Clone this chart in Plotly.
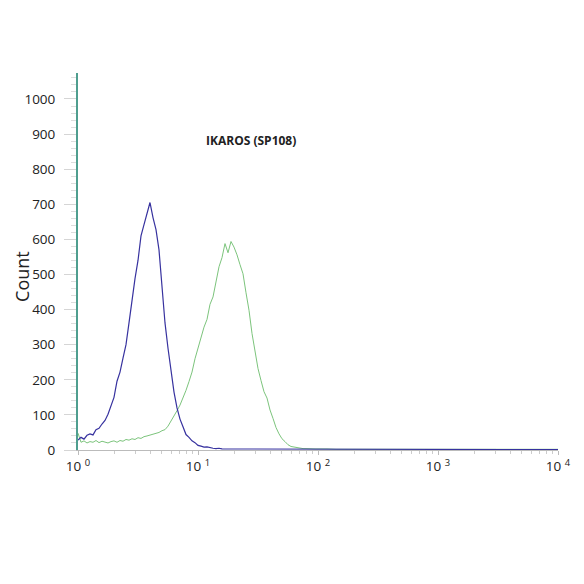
import plotly.graph_objects as go

# bin positions in decades (log10 of intensity), uniform channels
bin_step = 0.025
n_bins = 101
log_bins = [i * bin_step for i in range(n_bins)]
tail_log = [2.6, 2.7, 2.8, 2.9, 3.0, 3.1, 3.2, 3.3, 3.4, 3.5, 3.6, 3.7, 3.8, 3.9, 4.0]

blue_counts = [
    28, 36, 31, 42, 46, 43, 58, 62, 74, 84,
    102, 128, 150, 196, 222, 262, 300, 362, 430, 488,
    540, 610, 642, 676, 705, 662, 628, 570, 460, 362,
    290, 222, 165, 120, 88, 66, 44, 36, 26, 21,
    13, 11, 8, 9, 6, 5, 4, 5, 3, 3,
    2, 3, 2, 2, 1, 2, 1, 2, 1, 1,
    2, 1, 1, 2, 1, 1, 1, 2, 1, 1,
    1, 1, 2, 1, 1, 1, 1, 1, 2, 1,
    1, 1, 1, 1, 1, 2, 1, 1, 1, 1,
    1, 1, 1, 1, 1, 1, 1, 1, 1, 1,
    1,
]
blue_tail = [1, 1, 1, 1, 1, 1, 1, 1, 1, 1, 1, 1, 1, 1, 1]

green_counts = [
    48, 22, 26, 20, 24, 22, 27, 21, 25, 23,
    20, 24, 26, 22, 27, 25, 30, 28, 32, 30,
    35, 33, 38, 40, 42, 45, 48, 50, 55, 58,
    68, 82, 95, 112, 128, 148, 170, 195, 222, 260,
    290, 318, 350, 372, 415, 436, 475, 522, 548, 588,
    562, 594, 578, 556, 528, 502, 448, 398, 332, 280,
    232, 198, 166, 148, 114, 90, 64, 46, 32, 24,
    15, 10, 8, 6, 5, 4, 4, 3, 4, 3,
    3, 2, 3, 3, 2, 3, 2, 2, 3, 2,
    2, 2, 3, 2, 2, 2, 2, 3, 2, 2,
    2,
]
green_tail = [2, 2, 2, 2, 2, 2, 2, 2, 2, 2, 2, 2, 2, 2, 2]

x_tickvals = [1, 10, 100, 1000, 10000]
x_ticktext = ["10 <sup>0</sup>", "10 <sup>1</sup>", "10 <sup>2</sup>", "10 <sup>3</sup>", "10 <sup>4</sup>"]
y_tickvals = [0, 100, 200, 300, 400, 500, 600, 700, 800, 900, 1000]

title_text = "IKAROS (SP108)"
y_title = "Count"

xs = [10 ** v for v in log_bins + tail_log]

fig = go.Figure()
fig.add_trace(go.Scatter(x=xs, y=green_counts + green_tail, mode="lines",
                         line=dict(color="#7cc47c", width=1), hoverinfo="skip"))
fig.add_trace(go.Scatter(x=xs, y=blue_counts + blue_tail, mode="lines",
                         line=dict(color="#37329f", width=1.2), hoverinfo="skip"))

fig.update_layout(
    width=584, height=584,
    margin=dict(l=70, r=34, t=65, b=142),
    paper_bgcolor="white", plot_bgcolor="white",
    showlegend=False,
    font=dict(family="Open Sans, DejaVu Sans, sans-serif", color="#333333"),
)
fig.update_xaxes(
    type="log", range=[0, 4],
    tickvals=x_tickvals, ticktext=x_ticktext,
    tickfont=dict(size=13.5, color="#222222"),
    showline=True, linecolor="#bbbbbb", linewidth=1,
    ticks="outside", ticklen=4, tickcolor="#bbbbbb",
    minor=dict(ticks="outside", ticklen=3, tickcolor="#cccccc", dtick="D1"),
    showgrid=False, zeroline=False,
)
fig.update_yaxes(
    range=[0, 1074],
    tickvals=y_tickvals,
    tickfont=dict(size=13.5, color="#222222"),
    showline=True, linecolor="#4f9e8f", linewidth=2,
    ticks="outside", ticklen=12, tickcolor="#d5d5d5",
    ticklabelstandoff=6,
    minor=dict(ticks="outside", ticklen=5, tickcolor="#dddddd", dtick=20),
    showgrid=False, zeroline=False,
)
fig.add_annotation(
    x=0.3604, y=0.822, xref="paper", yref="paper",
    xanchor="center", yanchor="middle",
    text="<b>" + title_text + "</b>", showarrow=False,
    font=dict(size=12, color="#222222"),
)
fig.add_annotation(
    x=-70 / 480, y=0.459, xref="paper", yref="paper",
    xanchor="left", yanchor="middle",
    text=y_title, showarrow=False, textangle=-90,
    font=dict(size=18, color="#222222"),
)
fig.write_html("out.html")
